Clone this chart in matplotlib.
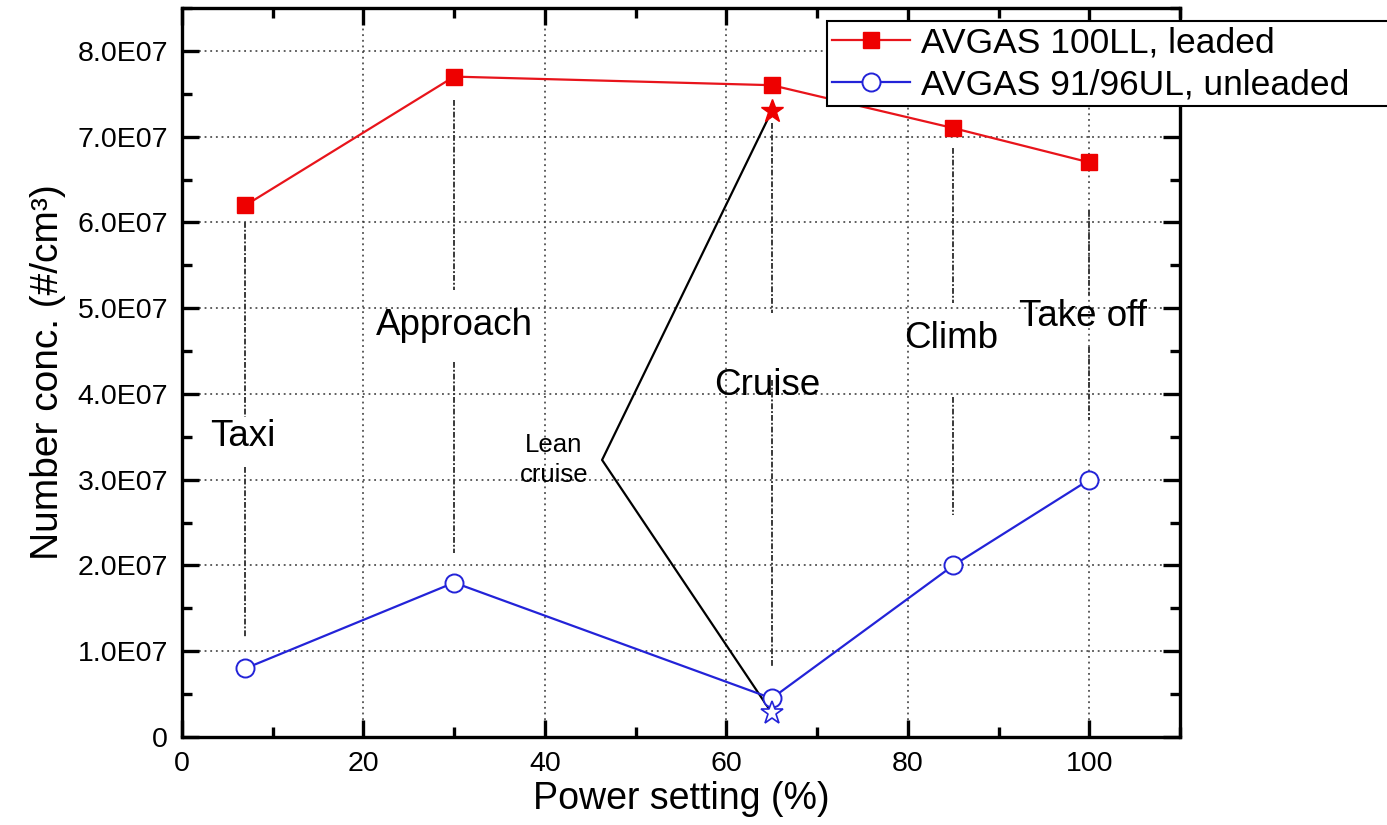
import matplotlib
matplotlib.use("Agg")
import matplotlib.pyplot as plt
from matplotlib.ticker import FixedLocator, MultipleLocator

plt.rcParams['font.family'] = ['Liberation Sans', 'DejaVu Sans']

# Data
power = [7, 30, 65, 85, 100]
leaded = [6.2e7, 7.7e7, 7.6e7, 7.1e7, 6.7e7]
unleaded = [0.8e7, 1.8e7, 0.45e7, 2.0e7, 3.0e7]
lean_x = 65
lean_leaded = 7.3e7
lean_unleaded = 0.28e7
lean_vertex = (46.3, 3.23e7)

phase_names = ["Taxi", "Approach", "Cruise", "Climb", "Take off"]
phase_label_pos = [(6.7, 3.5e7), (30, 4.8e7), (64.5, 4.1e7), (84.8, 4.65e7), (99.3, 4.9e7)]
# dash-dot guide segments (x, [(y0, y1), ...])
guide_segments = [
    (7, [(6.0e7, 3.73e7), (3.15e7, 1.15e7)]),
    (30, [(7.43e7, 5.21e7), (4.37e7, 2.15e7)]),
    (65, [(7.16e7, 4.94e7), (4.16e7, 0.82e7)]),
    (85, [(6.87e7, 5.06e7), (3.97e7, 2.59e7)]),
    (100, [(6.15e7, 5.15e7), (4.55e7, 3.7e7)]),
]
yticks = [0, 1e7, 2e7, 3e7, 4e7, 5e7, 6e7, 7e7, 8e7]
ytick_labels = ["0", "1.0E07", "2.0E07", "3.0E07", "4.0E07", "5.0E07", "6.0E07", "7.0E07", "8.0E07"]
xticks = [0, 20, 40, 60, 80, 100]

fig = plt.figure(figsize=(13.87, 8.25), dpi=100)
ax = fig.add_axes([0.1312, 0.1067, 0.7196, 0.8836])

ax.set_xlim(0, 110)
ax.set_ylim(0, 8.5e7)
ax.set_xticks(xticks)
ax.xaxis.set_minor_locator(MultipleLocator(10))
ax.yaxis.set_major_locator(FixedLocator(yticks))
ax.set_yticklabels(ytick_labels)
ax.yaxis.set_minor_locator(MultipleLocator(0.5e7))

ax.grid(True, which='major', linestyle=(0, (1.2, 2.5)), color='#333333', linewidth=1.1)
ax.set_axisbelow(True)

for sp in ax.spines.values():
    sp.set_linewidth(2.4)
ax.tick_params(which='both', direction='in', top=True, right=True, width=2.4)
ax.tick_params(which='major', length=12, labelsize=20.5, pad=10)
ax.tick_params(which='minor', length=7)

# guide segments
for gx, segs in guide_segments:
    for y0, y1 in segs:
        ax.plot([gx, gx], [y0, y1], linestyle=(0, (3, 1, 1, 1)), color='#3a3a3a', linewidth=1.4, zorder=2)

# phase labels
for name, (px, py) in zip(phase_names, phase_label_pos):
    ax.text(px, py, name, fontsize=26.5, ha='center', va='center', zorder=3)

ax.text(41, 3.23e7, "Lean\ncruise", fontsize=18.5, ha='center', va='center', linespacing=1.3, zorder=3)

# lean cruise V line
ax.plot([lean_x, lean_vertex[0], lean_x], [lean_leaded, lean_vertex[1], lean_unleaded],
        color='black', linewidth=1.6, zorder=3)

ax.plot(power, leaded, color='#e8141b', linewidth=1.6, marker='s', markersize=12,
        markerfacecolor='#ee0000', markeredgecolor='#ee0000', label='AVGAS 100LL, leaded', zorder=4)
ax.plot(power, unleaded, color='#2323d8', linewidth=1.6, marker='o', markersize=13,
        markerfacecolor='white', markeredgecolor='#2323d8', markeredgewidth=1.4,
        label='AVGAS 91/96UL, unleaded', zorder=4)

ax.plot([lean_x], [lean_leaded], linestyle='none', marker='*', markersize=17,
        color='#ee0000', zorder=5)
ax.plot([lean_x], [lean_unleaded], linestyle='none', marker='*', markersize=17,
        markerfacecolor='white', markeredgecolor='#2323d8', markeredgewidth=1.2, zorder=5)

ax.set_xlabel("Power setting (%)", fontsize=27, labelpad=3)
ax.set_ylabel("Number conc. (#/cm³)", fontsize=28, labelpad=8)

leg = fig.legend(loc='upper left',
                 bbox_to_anchor=(827 / 1387, 1 - 21 / 825, 600 / 1387, 0.0),
                 mode='expand', fontsize=25.5,
                 handlelength=2.2, handletextpad=0.3, labelspacing=0.25,
                 borderpad=0.15, borderaxespad=0, fancybox=False, framealpha=1,
                 edgecolor='black')
leg.get_frame().set_linewidth(1.5)

fig.savefig("out.png", dpi=100)
